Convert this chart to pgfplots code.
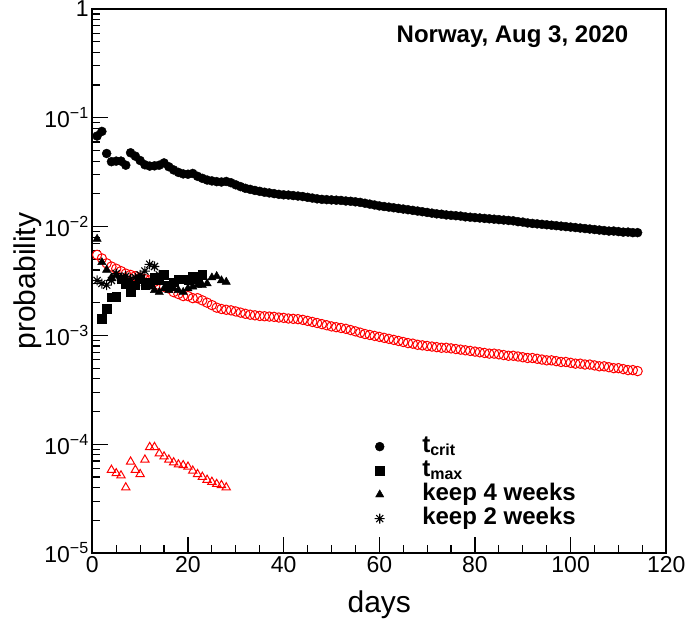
\documentclass[border=0pt]{standalone}
\usepackage{pgfplots}
\pgfplotsset{compat=1.18}
\usepackage{fontspec}
\setmainfont{Liberation Sans}

\newcommand{\sub}[1]{\raisebox{-3pt}{\fontsize{16}{16}\selectfont #1}}

\pgfdeclareplotmark{rootstar}{%
  \pgfpathmoveto{\pgfqpoint{-\pgfplotmarksize}{0pt}}\pgfpathlineto{\pgfqpoint{\pgfplotmarksize}{0pt}}%
  \pgfpathmoveto{\pgfqpoint{0pt}{-\pgfplotmarksize}}\pgfpathlineto{\pgfqpoint{0pt}{\pgfplotmarksize}}%
  \pgfpathmoveto{\pgfqpoint{-.707\pgfplotmarksize}{-.707\pgfplotmarksize}}\pgfpathlineto{\pgfqpoint{.707\pgfplotmarksize}{.707\pgfplotmarksize}}%
  \pgfpathmoveto{\pgfqpoint{-.707\pgfplotmarksize}{.707\pgfplotmarksize}}\pgfpathlineto{\pgfqpoint{.707\pgfplotmarksize}{-.707\pgfplotmarksize}}%
  \pgfusepathqstroke}

\pgfplotstableread{
d p
1 0.068
2 0.075
3 0.047
4 0.0395
5 0.040
6 0.040
7 0.0367
8 0.0477
9 0.0444
10 0.0405
11 0.037
12 0.036
13 0.0362
14 0.0367
15 0.0385
16 0.0355
17 0.0332
18 0.0315
19 0.0305
20 0.0303
21 0.0308
22 0.0290
23 0.0278
24 0.0268
25 0.0263
26 0.0259
27 0.0257
28 0.0260
29 0.0253
30 0.0242
31 0.0233
32 0.0225
33 0.0220
34 0.0215
35 0.0211
36 0.0207
37 0.0204
38 0.0201
39 0.0198
40 0.0196
41 0.0195
42 0.0193
43 0.0191
44 0.0189
45 0.0186
46 0.0183
47 0.0180
48 0.0178
49 0.0177
50 0.0176
51 0.0175
52 0.0174
53 0.0172
54 0.0171
55 0.0169
56 0.0167
57 0.0164
58 0.0161
59 0.0158
60 0.0155
61 0.0153
62 0.0151
63 0.0149
64 0.0147
65 0.0145
66 0.0143
67 0.0141
68 0.0139
69 0.0137
70 0.0135
71 0.0133
72 0.0131
73 0.0130
74 0.0128
75 0.0127
76 0.0126
77 0.0125
78 0.0123
79 0.0122
80 0.0121
81 0.0120
82 0.0119
83 0.0118
84 0.0117
85 0.0116
86 0.0115
87 0.0114
88 0.0113
89 0.0111
90 0.0110
91 0.0108
92 0.0107
93 0.0106
94 0.0105
95 0.0104
96 0.0103
97 0.0102
98 0.0101
99 0.0100
100 0.0099
101 0.0098
102 0.0097
103 0.0096
104 0.0095
105 0.0094
106 0.0093
107 0.0092
108 0.0091
109 0.0091
110 0.0090
111 0.0089
112 0.0089
113 0.0088
114 0.0088
}\tcrit

\pgfplotstableread{
d p
1 0.0055
2 0.0051
3 0.0046
4 0.0043
5 0.0041
6 0.0039
7 0.0037
8 0.0036
9 0.0035
10 0.0034
11 0.0033
12 0.0032
13 0.0031
14 0.0029
15 0.0028
16 0.0027
17 0.0025
18 0.0024
19 0.0023
20 0.0023
21 0.0022
22 0.0022
23 0.0021
24 0.0020
25 0.0019
26 0.0018
27 0.00175
28 0.00172
29 0.00170
30 0.00166
31 0.00162
32 0.00158
33 0.00155
34 0.00153
35 0.00151
36 0.00150
37 0.00149
38 0.00148
39 0.00146
40 0.00145
41 0.00143
42 0.00142
43 0.00141
44 0.00139
45 0.00136
46 0.00133
47 0.00130
48 0.00127
49 0.00124
50 0.00121
51 0.00119
52 0.00117
53 0.00115
54 0.00112
55 0.00109
56 0.00106
57 0.00103
58 0.00101
59 0.00099
60 0.00097
61 0.00095
62 0.00093
63 0.00091
64 0.00089
65 0.00087
66 0.00085
67 0.00084
68 0.00082
69 0.00081
70 0.00080
71 0.00079
72 0.00078
73 0.00077
74 0.00077
75 0.00076
76 0.00075
77 0.00074
78 0.00073
79 0.00072
80 0.00071
81 0.00070
82 0.00069
83 0.00068
84 0.00068
85 0.00067
86 0.00066
87 0.00065
88 0.00065
89 0.00064
90 0.00063
91 0.00062
92 0.00062
93 0.00061
94 0.00060
95 0.00059
96 0.00059
97 0.00058
98 0.00057
99 0.00057
100 0.00056
101 0.00055
102 0.00055
103 0.00054
104 0.00054
105 0.00053
106 0.00052
107 0.00052
108 0.00051
109 0.00050
110 0.00050
111 0.00049
112 0.00048
113 0.00048
114 0.00047
}\redcirc

\pgfplotstableread{
d p
2 0.00143
3 0.00176
4 0.00225
5 0.00227
6 0.0033
7 0.0030
8 0.0025
9 0.0029
10 0.0033
11 0.0029
12 0.0031
13 0.0034
14 0.0032
15 0.0036
16 0.0029
17 0.0031
18 0.0033
19 0.0033
20 0.0032
21 0.0035
22 0.0033
23 0.0036
}\tmax

\pgfplotstableread{
d p
1 0.0077
2 0.0047
3 0.0040
4 0.0034
5 0.0036
6 0.0034
7 0.0032
8 0.0030
9 0.0029
10 0.0032
11 0.0030
12 0.0028
13 0.0026
14 0.0025
15 0.0027
16 0.0026
17 0.0027
18 0.0026
19 0.0025
20 0.0027
21 0.0028
22 0.0029
23 0.0029
24 0.0030
25 0.0034
26 0.0035
27 0.0032
28 0.0031
}\keepfour

\pgfplotstableread{
d p
1 0.0032
2 0.0030
3 0.0029
4 0.0032
5 0.0037
6 0.0034
7 0.0035
8 0.0033
9 0.0034
10 0.0036
11 0.0039
12 0.0045
13 0.0043
14 0.0036
}\keeptwo

\pgfplotstableread{
d p
4 5.8e-5
5 5.4e-5
6 5.15e-5
7 4.0e-5
8 6.9e-5
9 5.8e-5
10 5.3e-5
11 7.2e-5
12 9.4e-5
13 9.4e-5
14 8.2e-5
15 7.7e-5
16 7.2e-5
17 6.8e-5
18 6.5e-5
19 6.4e-5
20 6.2e-5
21 5.7e-5
22 5.3e-5
23 5.0e-5
24 4.7e-5
25 4.5e-5
26 4.3e-5
27 4.2e-5
28 4.0e-5
}\redtri

\begin{document}
\begin{tikzpicture}
\begin{axis}[
  scale only axis, width=574pt, height=544pt,
  ymode=log, xmin=0, xmax=120, ymin=1e-5, ymax=1,
  xtick={0,20,40,60,80,100,120},
  xticklabels={0,20,40,60,80,100,120},
  minor x tick num=3,
  ytick={1e-5,1e-4,1e-3,1e-2,1e-1,1},
  yticklabels={10\textsuperscript{−5},10\textsuperscript{−4},10\textsuperscript{−3},10\textsuperscript{−2},10\textsuperscript{−1},1},
  minor ytick={2e-5,3e-5,4e-5,5e-5,6e-5,7e-5,8e-5,9e-5,
               2e-4,3e-4,4e-4,5e-4,6e-4,7e-4,8e-4,9e-4,
               2e-3,3e-3,4e-3,5e-3,6e-3,7e-3,8e-3,9e-3,
               2e-2,3e-2,4e-2,5e-2,6e-2,7e-2,8e-2,9e-2,
               0.2,0.3,0.4,0.5,0.6,0.7,0.8,0.9},
  tick pos=left, tick align=inside,
  major tick length=16pt, minor tick length=8pt,
  tick style={black, line width=1.2pt},
  axis line style={line width=2pt},
  tick label style={font=\fontsize{23}{23}\selectfont},
  xlabel={days}, ylabel={probability},
  every axis x label/.style={at={(rel axis cs:0.5,-0.095)}, anchor=center, font=\fontsize{30}{30}\selectfont},
  every axis y label/.style={at={(rel axis cs:-0.112,0.5)}, anchor=center, rotate=90, font=\fontsize{30}{30}\selectfont},
  legend cell align=left,
  legend image code/.code={\draw[#1] plot coordinates {(0pt,0pt)}; \path (-6pt,0pt) (40pt,0pt);},
  legend style={at={(rel axis cs:0.489,0.218)}, anchor=north west, draw=none, fill=none,
    inner sep=0pt, row sep=0pt,
    nodes={inner xsep=2pt, inner ysep=0.5pt, text height=17pt, text depth=6pt},
    font=\fontsize{24}{24}\selectfont\bfseries},
]
\addplot[only marks, mark=*, mark size=4.5pt, black] table[x=d,y=p] {\tcrit};
\addlegendentry{t\sub{crit}}
\addplot[forget plot, only marks, mark=o, mark size=4.7pt, red, line width=1pt] table[x=d,y=p] {\redcirc};
\addplot[only marks, mark=square*, mark size=4.2pt, black] table[x=d,y=p] {\tmax};
\addlegendentry{t\sub{max}}
\addplot[only marks, mark=triangle*, mark size=4.8pt, black] table[x=d,y=p] {\keepfour};
\addlegendentry{keep 4 weeks}
\addplot[only marks, mark=rootstar, mark size=5pt, black, line width=1.1pt] table[x=d,y=p] {\keeptwo};
\addlegendentry{keep 2 weeks}
\addplot[forget plot, only marks, mark=triangle, mark size=4.8pt, red, line width=1pt] table[x=d,y=p] {\redtri};
\node[anchor=east, font=\fontsize{24}{24}\selectfont\bfseries] at (rel axis cs:0.940,0.9485) {Norway, Aug 3, 2020};
\end{axis}
\pgfresetboundingbox
\path (current axis.south west) ++(-92.3pt,-72pt) rectangle ++(685pt,625pt);
\end{tikzpicture}
\end{document}
